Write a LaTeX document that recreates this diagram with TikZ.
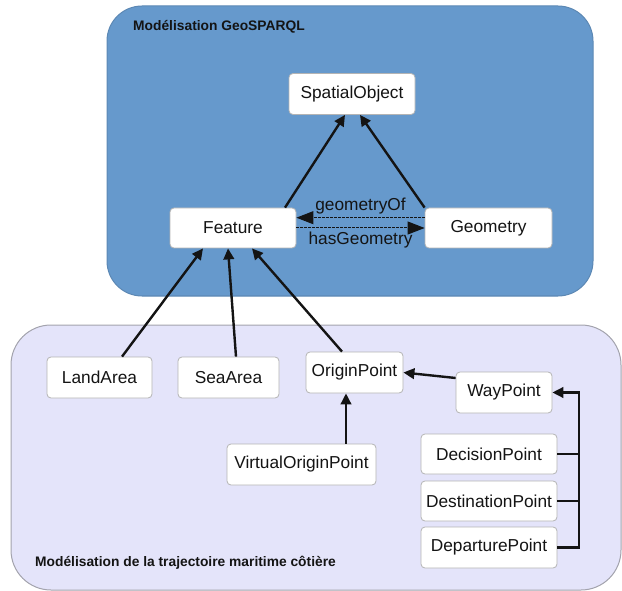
\documentclass[tikz,border=0pt]{standalone}
\usepackage{fontspec}
\setmainfont{Liberation Sans}
\usetikzlibrary{arrows.meta,positioning}
\definecolor{ink}{HTML}{141414}
\definecolor{geoblue}{HTML}{6699CC}
\definecolor{geoedge}{HTML}{5C88B4}
\definecolor{lav}{HTML}{E4E4FA}
\definecolor{lavedge}{HTML}{A3A3AD}
\definecolor{boxedge}{HTML}{B4B4B4}
\tikzset{
  cls/.style={draw=boxedge,fill=white,rounded corners=4pt,line width=0.8pt,inner sep=0pt,minimum height=41pt,font=\fontsize{17.3}{20}\selectfont,text=ink},
  panel/.style={line width=1pt},
  ttl/.style={font=\bfseries\fontsize{13.8}{16}\selectfont,text=ink,anchor=west,inner sep=0pt},
  arr/.style={-{Triangle[length=11pt,width=10.5pt]},line width=2.4pt,draw=ink},
  dsh/.style={-{Triangle[length=17pt,width=13pt]},line width=1pt,draw=ink,dash pattern=on 2.5pt off 1.5pt},
  lab/.style={font=\fontsize{17.3}{20}\selectfont,text=ink,inner sep=1pt},
}
\begin{document}
\begin{tikzpicture}[x=1pt,y=-1pt]
  \useasboundingbox (0,0) rectangle (622,591);
  % the two layers
  \draw[panel,fill=geoblue,draw=geoedge,rounded corners=35pt] (107,6) rectangle (593,296);
  \draw[panel,fill=lav,draw=lavedge,rounded corners=40pt] (11,325) rectangle (621,590);
  \node[ttl] (geottl) at (133,27) {Modélisation GeoSPARQL};
  \node[ttl] (trajttl) at (35,563) {Modélisation de la trajectoire maritime côtière};
  % GeoSPARQL
  \node[cls,minimum width=126pt] (SpatialObject) at (352,94) {SpatialObject};
  \node[cls,minimum width=126pt,minimum height=40pt] (Feature) at (233,228) {Feature};
  \node[cls,minimum width=127pt,minimum height=40pt] (Geometry) at (488.5,228) {Geometry};
  \draw[arr] ([xshift=52pt]Feature.north) -- ([xshift=-7pt]SpatialObject.south);
  \draw[arr] (Geometry.north west) -- ([xshift=8pt]SpatialObject.south);
  \draw[dsh] ([yshift=10.3pt]Geometry.west) -- node[lab,above=2.5pt] {geometryOf} ([yshift=10.3pt]Feature.east);
  \draw[dsh] (Feature.east) -- node[lab,below=2pt] {hasGeometry} (Geometry.west);
  % trajectory classes
  \node[cls,minimum width=105pt] (LandArea) at (99.5,377.5) {LandArea};
  \node[cls,minimum width=101pt] (SeaArea) at (228.5,377.5) {SeaArea};
  \node[cls,minimum width=97pt] (OriginPoint) at (354.5,372.5) {OriginPoint};
  \node[cls,minimum width=96pt] (WayPoint) at (504,392.5) {WayPoint};
  \node[cls,minimum width=149pt] (VirtualOriginPoint) at (301.5,464.5) {VirtualOriginPoint};
  \node[cls,minimum width=136pt,minimum height=40pt] (DecisionPoint) at (489,454) {DecisionPoint};
  \node[cls,minimum width=136pt,minimum height=40pt] (DestinationPoint) at (489,501) {DestinationPoint};
  \node[cls,minimum width=136pt] (DeparturePoint) at (489,547.5) {DeparturePoint};
  \draw[arr] ([xshift=22.5pt]LandArea.north) -- ([xshift=-30pt]Feature.south);
  \draw[arr] ([xshift=7.5pt]SeaArea.north) -- ([xshift=-5pt]Feature.south);
  \draw[arr] ([xshift=-12.5pt]OriginPoint.north) -- ([xshift=19pt]Feature.south);
  \draw[arr] ([yshift=14.5pt]WayPoint.west) -- (OriginPoint.east);
  \draw[arr] ([xshift=44.5pt]VirtualOriginPoint.north) -- ([xshift=-8.5pt]OriginPoint.south);
  % bus to WayPoint
  \coordinate (bus) at (579,392.5);
  \draw[arr] (DeparturePoint.east) -| (bus) -- (WayPoint.east);
  \draw[line width=2.4pt,draw=ink] (DecisionPoint.east) -- (DecisionPoint.east -| bus);
  \draw[line width=2.4pt,draw=ink] (DestinationPoint.east) -- (DestinationPoint.east -| bus);
\end{tikzpicture}
\end{document}
